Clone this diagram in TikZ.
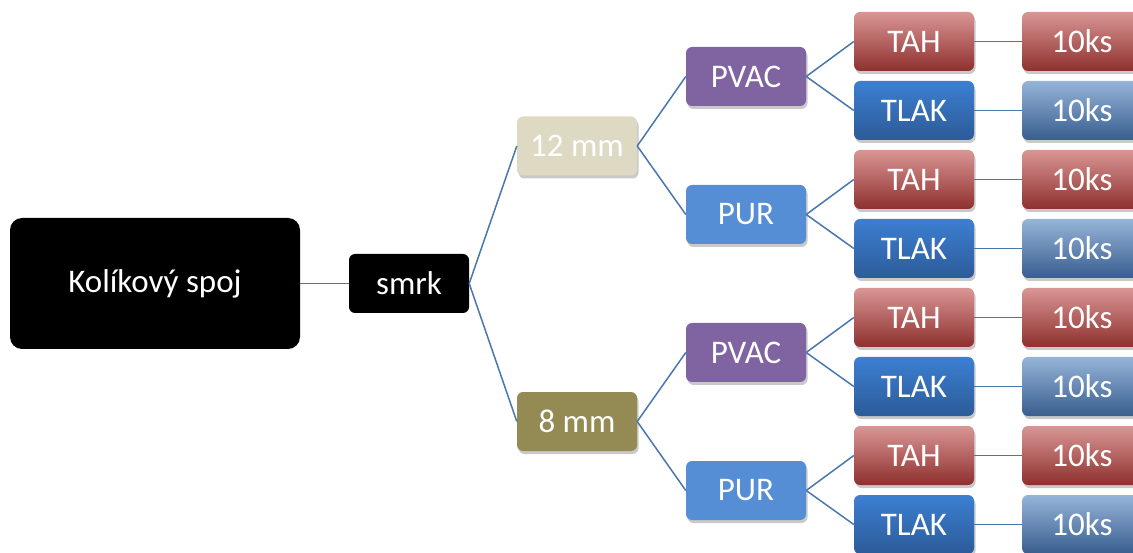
\documentclass[tikz,border=0pt]{standalone}
\usepackage{fontspec}
\setmainfont{Carlito}
\usetikzlibrary{shadows}
\definecolor{linkblue}{HTML}{4A76AE}
\definecolor{tanbox}{HTML}{DDD9C3}
\definecolor{olivebox}{HTML}{948A54}
\definecolor{purplebox}{HTML}{8064A2}
\definecolor{purbox}{HTML}{558ED5}
\definecolor{redtop}{HTML}{D99694}
\definecolor{redmid}{HTML}{C0504D}
\definecolor{redbot}{HTML}{8E302E}
\definecolor{blutop}{HTML}{3C7FD2}
\definecolor{blubot}{HTML}{2C5B98}
\definecolor{ltop}{HTML}{96B4D8}
\definecolor{lmid}{HTML}{5886C0}
\definecolor{lbot}{HTML}{385E8F}
\tikzset{
  box/.style={rounded corners=6pt, minimum width=120pt, minimum height=59pt,
    inner sep=0pt, text=white, font=\fontsize{33}{40}\selectfont},
  shad/.style={drop shadow={shadow xshift=1.5pt, shadow yshift=-3pt, opacity=0.3, fill=black!70}},
  rootbox/.style={box, fill=black, rounded corners=12pt, minimum width=290pt, minimum height=131pt},
  woodbox/.style={box, fill=black},
  tanstyle/.style={box, shad, fill=tanbox},
  olivestyle/.style={box, shad, fill=olivebox},
  pvacbox/.style={box, shad, fill=purplebox},
  purstyle/.style={box, shad, fill=purbox},
  tahbox/.style={box, shad, top color=redtop, middle color=redmid, bottom color=redbot},
  tlakbox/.style={box, shad, top color=blutop, bottom color=blubot},
  ksred/.style={box, shad, top color=redtop, middle color=redmid, bottom color=redbot},
  ksblue/.style={box, shad, top color=ltop, middle color=lmid, bottom color=lbot},
  link/.style={draw=linkblue, line width=1.5pt}
}
\begin{document}
\begin{tikzpicture}[x=1pt, y=-1pt]
\useasboundingbox (0,0) rectangle (1133,553);
\clip (0,0) rectangle (1133,553);
\node[rootbox] (root) at (155,283.5) {Kolíkový spoj};
\node[woodbox] (smrk) at (409,283.5) {smrk};
\node[tanstyle] (d12) at (577,146) {12 mm};
\node[olivestyle] (d8) at (577,421.5) {8 mm};
\node[pvacbox] (pv1) at (746,76.5) {PVAC};
\node[purstyle] (pu1) at (746,214.5) {PUR};
\node[pvacbox] (pv2) at (746,352.5) {PVAC};
\node[purstyle] (pu2) at (746,490.5) {PUR};
\foreach \i/\p/\ya/\yb in {1/pv1/41.5/110.5, 2/pu1/179.5/248.5, 3/pv2/317.5/386.5, 4/pu2/455.5/524.5}{
  \node[tahbox] (tah\i) at (914,\ya) {TAH};
  \node[tlakbox] (tlak\i) at (914,\yb) {TLAK};
  \node[ksred] (kr\i) at (1082,\ya) {10ks};
  \node[ksblue] (kb\i) at (1082,\yb) {10ks};
  \draw[link] (\p.east) -- (tah\i.west);
  \draw[link] (\p.east) -- (tlak\i.west);
  \draw[link] (tah\i.east) -- (kr\i.west);
  \draw[link] (tlak\i.east) -- (kb\i.west);
}
\draw[link] (root.east) -- (smrk.west);
\draw[link] (smrk.east) -- (d12.west);
\draw[link] (smrk.east) -- (d8.west);
\draw[link] (d12.east) -- (pv1.west);
\draw[link] (d12.east) -- (pu1.west);
\draw[link] (d8.east) -- (pv2.west);
\draw[link] (d8.east) -- (pu2.west);
\end{tikzpicture}
\end{document}
